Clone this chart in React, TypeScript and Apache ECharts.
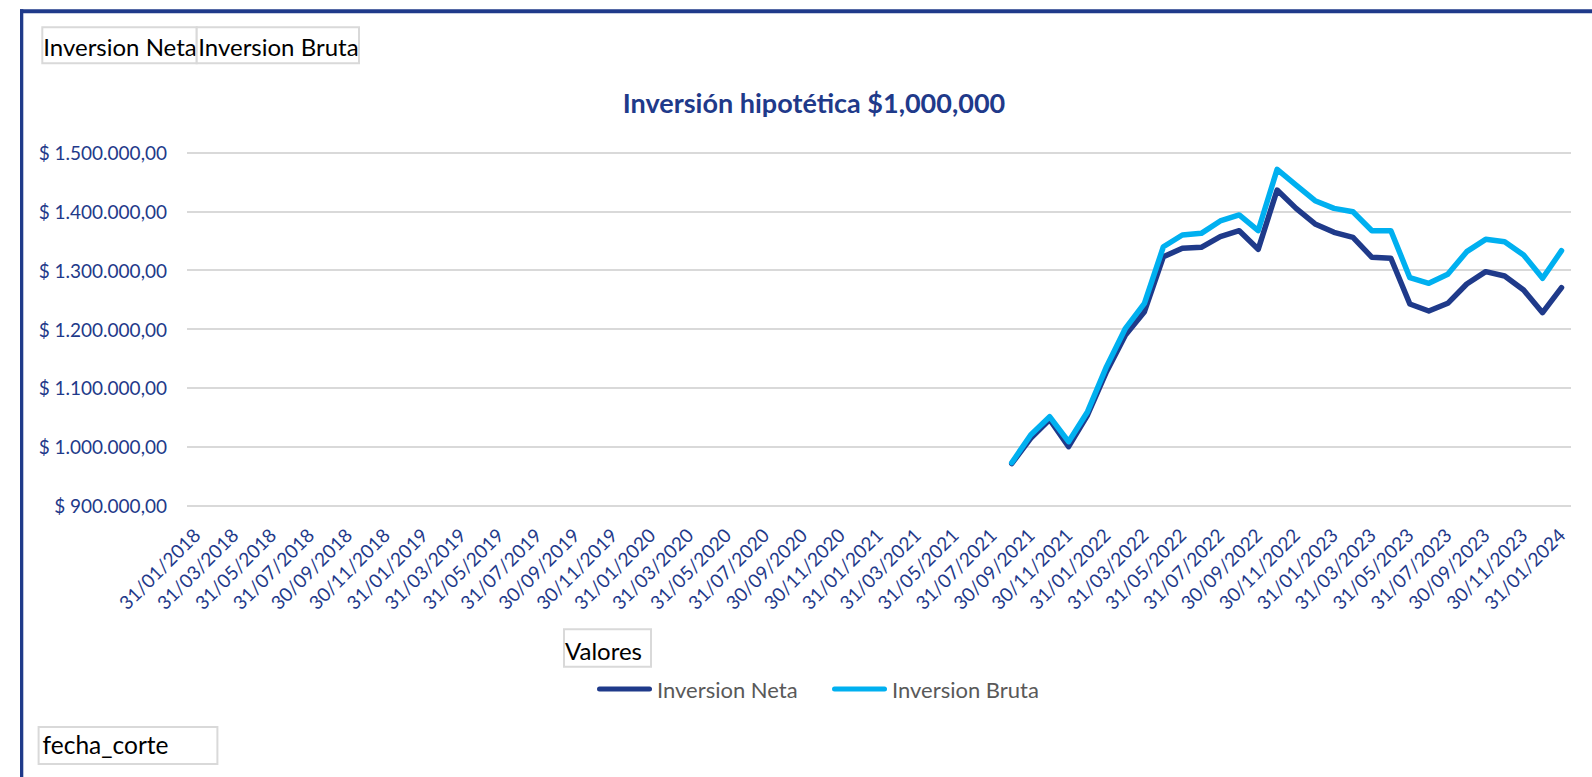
import React, { useEffect, useRef } from "react";
import * as echarts from "echarts";

const categories = [
  "31/01/2018", "28/02/2018", "31/03/2018", "30/04/2018", "31/05/2018", "30/06/2018",
  "31/07/2018", "31/08/2018", "30/09/2018", "31/10/2018", "30/11/2018", "31/12/2018",
  "31/01/2019", "28/02/2019", "31/03/2019", "30/04/2019", "31/05/2019", "30/06/2019",
  "31/07/2019", "31/08/2019", "30/09/2019", "31/10/2019", "30/11/2019", "31/12/2019",
  "31/01/2020", "29/02/2020", "31/03/2020", "30/04/2020", "31/05/2020", "30/06/2020",
  "31/07/2020", "31/08/2020", "30/09/2020", "31/10/2020", "30/11/2020", "31/12/2020",
  "31/01/2021", "28/02/2021", "31/03/2021", "30/04/2021", "31/05/2021", "30/06/2021",
  "31/07/2021", "31/08/2021", "30/09/2021", "31/10/2021", "30/11/2021", "31/12/2021",
  "31/01/2022", "28/02/2022", "31/03/2022", "30/04/2022", "31/05/2022", "30/06/2022",
  "31/07/2022", "31/08/2022", "30/09/2022", "31/10/2022", "30/11/2022", "31/12/2022",
  "31/01/2023", "28/02/2023", "31/03/2023", "30/04/2023", "31/05/2023", "30/06/2023",
  "31/07/2023", "31/08/2023", "30/09/2023", "31/10/2023", "30/11/2023", "31/12/2023",
  "31/01/2024",
];

const valueDates = [
  "31/08/2021", "30/09/2021", "31/10/2021", "30/11/2021", "31/12/2021",
  "31/01/2022", "28/02/2022", "31/03/2022", "30/04/2022", "31/05/2022", "30/06/2022",
  "31/07/2022", "31/08/2022", "30/09/2022", "31/10/2022", "30/11/2022", "31/12/2022",
  "31/01/2023", "28/02/2023", "31/03/2023", "30/04/2023", "31/05/2023", "30/06/2023",
  "31/07/2023", "31/08/2023", "30/09/2023", "31/10/2023", "30/11/2023", "31/12/2023",
  "31/01/2024",
];

const inversionNeta = [
  971000, 1014000, 1046000, 999700, 1053700,
  1127400, 1189800, 1229500, 1323000, 1337300, 1339000,
  1357100, 1367300, 1335600, 1436500, 1405300, 1378700,
  1364500, 1356000, 1322000, 1320300, 1242600, 1230600,
  1243700, 1276600, 1297600, 1290200, 1266400, 1227800,
  1270300,
];

const inversionBruta = [
  972500, 1019600, 1050800, 1008200, 1059300,
  1135900, 1201200, 1243700, 1340000, 1360000, 1362800,
  1383800, 1394000, 1367300, 1471700, 1445000, 1418300,
  1405300, 1399600, 1367300, 1367300, 1287300, 1277700,
  1293000, 1331600, 1352600, 1348600, 1325900, 1286300,
  1333300,
];

const seriesNames = ["Inversion Neta", "Inversion Bruta"];
const titleText = "Inversión hipotética $1,000,000";

const DARK = "#1F3A8A";
const LIGHT = "#00B0F0";
const FONT = "Lato, 'Noto Sans', sans-serif";

function formatMoney(v: number): string {
  const s = Math.round(v).toString().replace(/\B(?=(\d{3})+(?!\d))/g, ".");
  return "$ " + s + ",00";
}

const legendIcon =
  "path://M2.5,0 L52.5,0 A2.5,2.5 0 0 1 52.5,5 L2.5,5 A2.5,2.5 0 0 1 2.5,0 Z";

function box(x: number, y: number, w: number, h: number, text: string, tx: number, ty: number, fs: number) {
  return [
    {
      type: "rect",
      shape: { x, y, width: w, height: h },
      style: { fill: "#ffffff", stroke: "#d9d9d9", lineWidth: 2 },
      silent: true,
    },
    {
      type: "text",
      x: tx,
      y: ty,
      style: {
        text,
        fill: "#000000",
        fontFamily: FONT,
        fontSize: fs,
        align: "left",
        verticalAlign: "middle",
      },
      silent: true,
    },
  ];
}

export default function App() {
  const ref = useRef<HTMLDivElement>(null);

  useEffect(() => {
    if (!ref.current) return;
    const chart = echarts.init(ref.current, null, { renderer: "svg" });

    const legendText = { color: "#595959", fontSize: 22, fontFamily: FONT, lineHeight: 22 };

    const option: any = {
      animation: false,
      backgroundColor: "#ffffff",
      grid: { left: 187, right: 21, top: 152.7, bottom: 271.7, containLabel: false },
      legend: [
        {
          data: [seriesNames[0]],
          left: 597,
          top: 678,
          padding: 0,
          itemWidth: 55,
          itemHeight: 5,
          icon: legendIcon,
          textStyle: legendText,
        },
        {
          data: [seriesNames[1]],
          left: 832,
          top: 678,
          padding: 0,
          itemWidth: 55,
          itemHeight: 5,
          icon: legendIcon,
          textStyle: legendText,
        },
      ],
      xAxis: {
        type: "category",
        data: categories,
        boundaryGap: true,
        axisLine: { show: false },
        axisTick: { show: false },
        splitLine: { show: false },
        axisLabel: {
          interval: 1,
          rotate: 45,
          align: "right",
          verticalAlign: "middle",
          margin: 26,
          color: DARK,
          fontSize: 19,
          fontFamily: FONT,
        },
      },
      yAxis: {
        type: "value",
        min: 900000,
        max: 1500000,
        interval: 100000,
        axisLine: { show: false },
        axisTick: { show: false },
        axisLabel: {
          formatter: (v: number) => formatMoney(v),
          color: DARK,
          fontSize: 19,
          fontFamily: FONT,
          margin: 20,
        },
        splitLine: { lineStyle: { color: "#d9d9d9", width: 2 } },
      },
      series: [
        {
          name: seriesNames[0],
          type: "line",
          data: valueDates.map((d, i) => [d, inversionNeta[i]]),
          showSymbol: false,
          symbol: "none",
          color: DARK,
          itemStyle: { color: DARK },
          lineStyle: { color: DARK, width: 5.5, cap: "round", join: "round" },
          z: 2,
        },
        {
          name: seriesNames[1],
          type: "line",
          data: valueDates.map((d, i) => [d, inversionBruta[i]]),
          showSymbol: false,
          symbol: "none",
          color: LIGHT,
          itemStyle: { color: LIGHT },
          lineStyle: { color: LIGHT, width: 5.5, cap: "round", join: "round" },
          z: 3,
        },
      ],
      graphic: [
        {
          type: "rect",
          shape: { x: 20, y: 9.3, width: 1572, height: 4 },
          style: { fill: DARK },
          silent: true,
        },
        {
          type: "rect",
          shape: { x: 20, y: 9.3, width: 3.3, height: 768 },
          style: { fill: DARK },
          silent: true,
        },
        ...box(42.3, 27.3, 154.4, 36, seriesNames[0], 43.3, 46, 24),
        ...box(196.7, 27.3, 162.3, 36, seriesNames[1], 198.3, 46, 24),
        ...box(564, 629.3, 87, 37.4, "Valores", 565, 650, 24),
        ...box(38.6, 727, 178.8, 37, "fecha_corte", 42.6, 744, 24.5),
        {
          type: "text",
          x: 814,
          y: 102,
          style: {
            text: titleText,
            fill: DARK,
            fontFamily: FONT,
            fontWeight: "bold",
            fontSize: 27,
            align: "center",
            verticalAlign: "middle",
          },
          silent: true,
        },
      ],
    };

    chart.setOption(option);
    return () => chart.dispose();
  }, []);

  return (
    <div
      ref={ref}
      style={{ position: "absolute", left: 0, top: 0, width: 1592, height: 777 }}
    />
  );
}
